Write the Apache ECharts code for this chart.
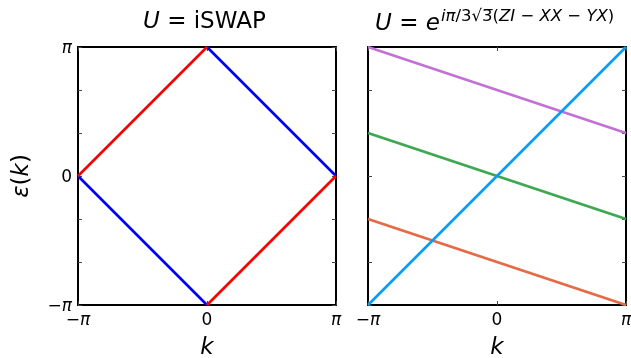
<!DOCTYPE html>
<html><head><meta charset="utf-8">
<script src="https://cdn.jsdelivr.net/npm/echarts@6/dist/echarts.min.js"></script>
<style>html,body{margin:0;padding:0;background:#fff}#c{width:631px;height:358px}</style>
</head><body><div id="c"></div>
<script>
const PI = Math.PI;
// tick positions (radians)
const xTickVals = [-PI, 0, PI];
const yTickVals = [-PI, -2*PI/3, -PI/3, 0, PI/3, 2*PI/3, PI];
const labelVals = [-PI, 0, PI];
// Left panel (U = iSWAP): [k, eps]
const iswapRed1 = [[-PI, 0], [0, PI]];
const iswapRed2 = [[0, -PI], [PI, 0]];
const iswapBlue1 = [[-PI, 0], [0, -PI]];
const iswapBlue2 = [[0, PI], [PI, 0]];
// Right panel bands
const bandBlue = [[-PI, -PI], [PI, PI]];
const bandPurple = [[-PI, PI], [PI, PI/3]];
const bandGreen = [[-PI, PI/3], [PI, -PI/3]];
const bandOrange = [[-PI, -PI/3], [PI, -PI]];

const FONT = 'DejaVu Sans';
const labRich = {
  m: {fontFamily: FONT, fontSize: 17, color: '#000'},
  p: {fontFamily: FONT, fontSize: 17, fontStyle: 'italic', color: '#000'}
};
function fmt(v) {
  if (Math.abs(v) < 1e-9) return '{m|0}';
  return v < 0 ? '{m|\u2212}{p|\u03c0}' : '{p|\u03c0}';
}
const tickStyle = {show: true, inside: true, length: 4, lineStyle: {color: '#444', width: 1}};
const lineStyleAx = {show: true, lineStyle: {color: '#000', width: 2}};

function xAx(grid, pos, labels) {
  return {type: 'value', gridIndex: grid, position: pos, min: -PI, max: PI,
    axisLine: Object.assign({onZero: false}, lineStyleAx),
    axisTick: Object.assign({customValues: xTickVals}, tickStyle),
    axisLabel: labels ? {show: true, customValues: labelVals, formatter: fmt, rich: labRich, margin: 7} : {show: false},
    splitLine: {show: false},
    name: labels ? 'k' : '', nameLocation: 'middle', nameGap: 32,
    nameTextStyle: {fontFamily: FONT, fontSize: 23, fontStyle: 'italic', color: '#000'}
  };
}
function yAx(grid, pos, labels, name) {
  return {type: 'value', gridIndex: grid, position: pos, min: -PI, max: PI,
    axisLine: Object.assign({onZero: false}, lineStyleAx),
    axisTick: Object.assign({customValues: yTickVals}, tickStyle),
    axisLabel: labels ? {show: true, customValues: labelVals, formatter: fmt, rich: labRich, margin: 6, padding: [4, 0, 0, 0]} : {show: false},
    splitLine: {show: false},
    name: name ? '{e|\u03b5}{n|(}{e|k}{n|)}' : '', nameLocation: 'middle', nameGap: 44, nameRotate: 90,
    nameTextStyle: {rich: {e: {fontFamily: FONT, fontSize: 23, fontStyle: 'italic', color: '#000'}, n: {fontFamily: FONT, fontSize: 23, color: '#000'}}}
  };
}
function ser(data, color, xi, yi) {
  return {type: 'line', data: data, xAxisIndex: xi, yAxisIndex: yi, showSymbol: false, symbol: 'none',
    lineStyle: {color: color, width: 2.6}, silent: true, animation: false, clip: true};
}
const chart = echarts.init(document.getElementById('c'), null, {renderer: 'canvas'});
chart.setOption({
  animation: false,
  backgroundColor: '#fff',
  grid: [
    {left: 78, top: 47, width: 258, height: 258, containLabel: false, outerBoundsMode: 'none'},
    {left: 368, top: 47, width: 258, height: 258, containLabel: false, outerBoundsMode: 'none'}
  ],
  xAxis: [xAx(0, 'bottom', true), xAx(0, 'top', false), xAx(1, 'bottom', true), xAx(1, 'top', false)],
  yAxis: [yAx(0, 'left', true, true), yAx(0, 'right', false, false), yAx(1, 'left', false, false), yAx(1, 'right', false, false)],
  series: [
    ser(iswapBlue1, '#0000ff', 0, 0), ser(iswapBlue2, '#0000ff', 0, 0),
    ser(iswapRed1, '#ff0000', 0, 0), ser(iswapRed2, '#ff0000', 0, 0),
    ser(bandPurple, '#c272d6', 2, 2), ser(bandGreen, '#3ba84e', 2, 2),
    ser(bandOrange, '#e36a44', 2, 2), ser(bandBlue, '#0a9cf0', 2, 2)
  ],
  graphic: [
    {type: 'text', left: 143, top: 11, style: {text: '{i|U} = iSWAP',
      rich: {i: {fontFamily: FONT, fontSize: 23, fontStyle: 'italic', fill: '#000'}},
      font: '23px "DejaVu Sans"', fill: '#000'}},
    {type: 'text', left: 375, top: 13, style: {text: '{i|U} = {i|e}',
      rich: {i: {fontFamily: FONT, fontSize: 23, fontStyle: 'italic', fill: '#000'}},
      font: '23px "DejaVu Sans"', fill: '#000'}},
    {type: 'text', left: 441, top: 8, style: {text: '{i|i\u03c0}/3\u221a3\u0305({i|ZI} \u2212 {i|XX} \u2212 {i|YX})',
      rich: {i: {fontFamily: FONT, fontSize: 16.5, fontStyle: 'italic', fill: '#000'}},
      font: '16.5px "DejaVu Sans"', fill: '#000'}}
  ]
});
</script>
</body></html>
